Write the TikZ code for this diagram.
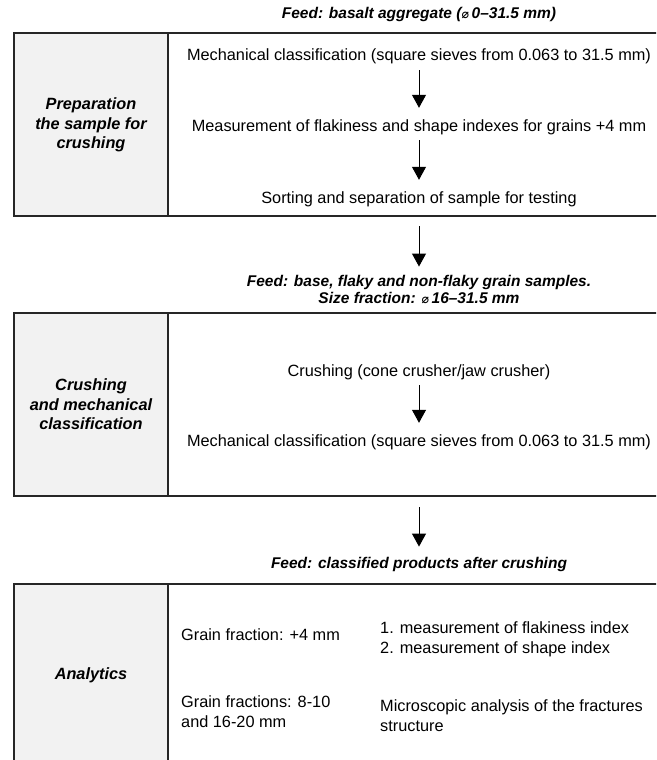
\documentclass[tikz,border=0pt]{standalone}
\usepackage{fontspec}
\setmainfont{Liberation Sans}
\newfontfamily\symfont{DejaVu Sans}
\usetikzlibrary{arrows.meta}
\newcommand\diam{{\symfont\fontsize{12.5}{12.5}\selectfont ⌀}}
\begin{document}
\begin{tikzpicture}[x=1pt,y=-1pt,
  boxline/.style={draw=black!85,line width=1.3pt},
  leftcell/.style={fill=black!5},
  txt/.style={inner sep=0pt,font=\fontsize{16.3}{19.5}\selectfont,text height=12pt,text depth=4pt},
  lbl/.style={inner sep=0pt,align=center,font=\fontsize{16.3}{19.5}\selectfont\bfseries\itshape},
  ttl/.style={inner sep=0pt,align=center,font=\fontsize{15.5}{17}\selectfont\bfseries\itshape},
  multi/.style={inner sep=0pt,align=left,anchor=west,font=\fontsize{16.3}{20}\selectfont},
  arr/.style={line width=1pt,-{Triangle[width=14pt,length=13pt]}}]
\useasboundingbox (0,0) rectangle (656,760);
\clip (0,0) rectangle (656,760);
\fill[white] (0,0) rectangle (656,760);
% box 1
\fill[leftcell] (14,33) rectangle (168,216);
\draw[boxline] (14,33) rectangle (680,216);
\draw[boxline] (168,33) -- (168,216);
% box 2
\fill[leftcell] (14,313) rectangle (168,496);
\draw[boxline] (14,313) rectangle (680,496);
\draw[boxline] (168,313) -- (168,496);
% box 3
\fill[leftcell] (14,584) rectangle (168,780);
\draw[boxline] (14,584) rectangle (680,780);
\draw[boxline] (168,584) -- (168,780);

\node[ttl] (t1) at (419,14) {Feed: basalt aggregate (\diam\,0–31.5 mm)};
\node[lbl] (l1) at (91,125) {Preparation\\the sample for\\crushing};
\node[txt] (a1) at (419,57) {Mechanical classification (square sieves from 0.063 to 31.5 mm)};
\node[txt] (a2) at (419,127) {Measurement of flakiness and shape indexes for grains +4 mm};
\node[txt] (a3) at (419,199) {Sorting and separation of sample for testing};
\draw[arr,shorten <=5pt,shorten >=11pt] (a1) -- (a2);
\draw[arr,shorten <=5pt,shorten >=11pt] (a2) -- (a3);

\coordinate (c1) at (419,216);
\node[ttl] (t2) at (419,290) {Feed: base, flaky and non-flaky grain samples.\\Size fraction: \diam\,16–31.5 mm};
\draw[arr,shorten <=10pt,shorten >=9pt] (c1) -- (t2.north);

\node[lbl] (l2) at (91,404.5) {Crushing\\and mechanical\\classification};
\node[txt] (b1) at (419,372) {Crushing (cone crusher/jaw crusher)};
\node[txt] (b2) at (419,442) {Mechanical classification (square sieves from 0.063 to 31.5 mm)};
\draw[arr,shorten <=5pt,shorten >=11pt] (b1) -- (b2);

\coordinate (c2) at (419,496);
\node[ttl] (t3) at (419,564) {Feed: classified products after crushing};
\draw[arr,shorten <=11pt,shorten >=10pt] (c2) -- (t3.north);

\node[lbl] (l3) at (91,675) {Analytics};
\node[multi] (g1) at (181,635) {Grain fraction: +4 mm};
\node[multi] (m1) at (380,639) {1. measurement of flakiness index\\2. measurement of shape index};
\node[multi] (g2) at (181,711.5) {Grain fractions: 8-10\\and 16-20 mm};
\node[multi] (m2) at (380,716) {Microscopic analysis of the fractures\\structure};
\end{tikzpicture}
\end{document}
